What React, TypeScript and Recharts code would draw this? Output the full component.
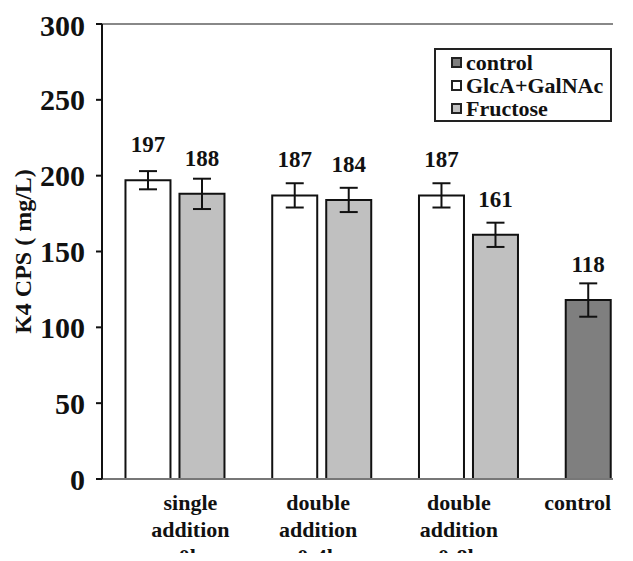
import React from 'react';
import { BarChart, Bar, XAxis, YAxis, ErrorBar, LabelList, Legend, ReferenceLine } from 'recharts';

const categories = ['single addition 0h', 'double addition 0-4h', 'double addition 0-8h', 'control'];
const seriesNames = ['control', 'GlcA+GalNAc', 'Fructose'];
const controlValues: (number | null)[] = [null, null, null, 118];
const controlErrors: (number | null)[] = [null, null, null, 11];
const glcaValues: (number | null)[] = [197, 187, 187, null];
const glcaErrors: (number | null)[] = [6, 8, 8, null];
const fructoseValues: (number | null)[] = [188, 184, 161, null];
const fructoseErrors: (number | null)[] = [10, 8, 8, null];
const yTicks = [0, 50, 100, 150, 200, 250, 300];

const data = categories.map((c, i) => ({
  name: c,
  control: controlValues[i],
  controlErr: controlErrors[i],
  glca: glcaValues[i],
  glcaErr: glcaErrors[i],
  fructose: fructoseValues[i],
  fructoseErr: fructoseErrors[i],
}));

const FONT = '"Liberation Serif", "Times New Roman", serif';
const labelShift = [15, -4, -10, -38];

function CategoryTick(props: any) {
  const { x, y, payload, index } = props;
  const lines = String(payload.value).split(' ');
  const shift = labelShift[index] ?? 0;
  return (
    <g transform={`translate(${x + shift},${y})`}>
      <text textAnchor="middle" fontFamily={FONT} fontSize={22} fontWeight="bold" fill="#111">
        {lines.map((l, i) => (
          <tspan key={i} x={0} y={31 + i * 27}>{l}</tspan>
        ))}
      </text>
    </g>
  );
}

function LegendBox(props: any) {
  const payload = [...(props.payload || [])].sort(
    (a: any, b: any) => seriesNames.indexOf(a.value) - seriesNames.indexOf(b.value)
  );
  return (
    <div
      style={{
        width: 178,
        height: 74,
        boxSizing: 'border-box',
        border: '2px solid #222',
        background: '#fff',
        fontFamily: FONT,
        fontSize: 22,
        fontWeight: 'bold',
        color: '#111',
        lineHeight: '24px',
        paddingLeft: 15,
        paddingTop: 1,
      }}
    >
      {payload.map((e: any, i: number) => (
        <div key={i} style={{ whiteSpace: 'nowrap', display: 'flex', alignItems: 'center', height: 23 }}>
          <span
            style={{
              display: 'inline-block',
              width: 11,
              height: 11,
              boxSizing: 'border-box',
              border: '2px solid #222',
              background: e.color,
              marginRight: 4,
            }}
          />
          <span>{e.value}</span>
        </div>
      ))}
    </div>
  );
}

const fmt = (v: any) => (v === null || v === undefined ? '' : v);
const labelStyle = { fontFamily: FONT, fontSize: 23, fontWeight: 'bold', fill: '#111' };

export default function App() {
  return (
    <div style={{ width: 605, height: 553, overflow: 'hidden', marginBottom: -8 }}>
      <BarChart
        width={605}
        height={553}
        data={data}
        margin={{ top: 16, right: -76, bottom: 0, left: 4 }}
        barCategoryGap="16%"
        barGap={9}
      >
        <ReferenceLine y={300} stroke="#888" strokeWidth={2} />
        <XAxis
          dataKey="name"
          interval={0}
          tickLine={false}
          tickSize={0}
          tickMargin={0}
          height={82}
          axisLine={{ stroke: '#777', strokeWidth: 2 }}
          tick={<CategoryTick />}
        />
        <YAxis
          domain={[0, 300]}
          ticks={yTicks}
          width={90}
          tickSize={6}
          tickMargin={11}
          axisLine={{ stroke: '#111', strokeWidth: 2 }}
          tickLine={{ stroke: '#111', strokeWidth: 2 }}
          tick={{ fontFamily: FONT, fontSize: 30, fontWeight: 'bold', fill: '#111' }}
          label={{
            value: 'K4 CPS ( mg/L)',
            angle: -90,
            position: 'insideLeft',
            offset: 10,
            style: { textAnchor: 'middle', fontFamily: FONT, fontSize: 24, fontWeight: 'bold', fill: '#111' },
          }}
        />
        <Legend
          layout="vertical"
          align="center"
          verticalAlign="middle"
          content={<LegendBox />}
          wrapperStyle={{ top: 40, left: 426, width: 178, height: 74 }}
        />
        <Bar dataKey="control" name="control" stackId="a" fill="#7f7f7f" stroke="#111" strokeWidth={2} isAnimationActive={false}>
          <ErrorBar dataKey="controlErr" width={9} stroke="#111" strokeWidth={2} />
          <LabelList dataKey="control" position="top" offset={28} formatter={fmt} style={labelStyle} />
        </Bar>
        <Bar dataKey="glca" name="GlcA+GalNAc" stackId="a" fill="#ffffff" stroke="#111" strokeWidth={2} isAnimationActive={false}>
          <ErrorBar dataKey="glcaErr" width={9} stroke="#111" strokeWidth={2} />
          <LabelList dataKey="glca" position="top" offset={28} formatter={fmt} style={labelStyle} />
        </Bar>
        <Bar dataKey="fructose" name="Fructose" fill="#c0c0c0" stroke="#111" strokeWidth={2} isAnimationActive={false}>
          <ErrorBar dataKey="fructoseErr" width={9} stroke="#111" strokeWidth={2} />
          <LabelList dataKey="fructose" position="top" offset={28} formatter={fmt} style={labelStyle} />
        </Bar>
      </BarChart>
    </div>
  );
}
